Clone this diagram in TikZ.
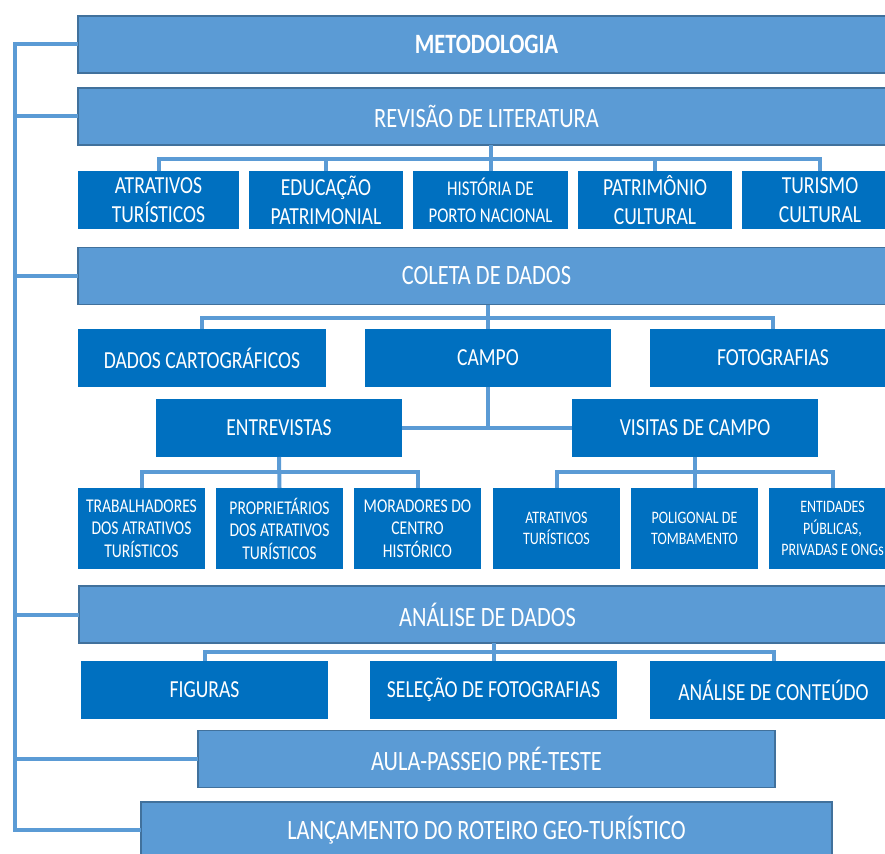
\documentclass[tikz,border=0pt]{standalone}
\usepackage{fontspec}
\setmainfont{Carlito}[FakeStretch=0.8]
\usetikzlibrary{positioning}
\definecolor{stageblue}{HTML}{5B9BD5}
\definecolor{stageedge}{HTML}{41719C}
\definecolor{topicblue}{HTML}{0070C0}
\definecolor{linkblue}{HTML}{5B9BD5}

\begin{document}
\begin{tikzpicture}[x=1pt, y=-1pt,
          stage/.style={rectangle, draw=stageedge, line width=1.2pt, fill=stageblue,
              text=white, minimum width=817pt, minimum height=57pt, outer sep=0pt,
              font=\fontsize{28}{33}\selectfont, anchor=west},
          topic/.style={rectangle, fill=topicblue, text=white, minimum height=58pt,
              outer sep=0pt, inner sep=2pt, align=center,
              font=\fontsize{24.5}{29}\selectfont},
          leaf/.style={topic, minimum width=127pt, minimum height=81pt,
              font=\fontsize{19.5}{22.5}\selectfont},
          small/.style={font=\fontsize{17.5}{21.5}\selectfont},
          link/.style={draw=linkblue, line width=4pt}
        ]
        \path[use as bounding box, clip] (0,0) rectangle (885,853);
        \node[stage, font=\bfseries\fontsize{28}{33}\selectfont] (met) at (78,44.5) {METODOLOGIA};
        \node[stage] (rev) at (78,116.5) {REVISÃO DE LITERATURA};
        \node[topic, minimum width=161pt, anchor=north west] (atr) at (78,171) {ATRATIVOS\\TURÍSTICOS};
        \node[topic, minimum width=154pt, right=10pt of atr] (edu) {EDUCAÇÃO\\PATRIMONIAL};
        \node[topic, minimum width=155pt, right=10pt of edu, font=\fontsize{21}{27}\selectfont] (his) {HISTÓRIA DE\\PORTO NACIONAL};
        \node[topic, minimum width=154pt, right=10pt of his] (pat) {PATRIMÔNIO\\CULTURAL};
        \node[topic, minimum width=156pt, right=10pt of pat] (tur) {TURISMO\\CULTURAL};
        \node[stage] (col) at (78,276) {COLETA DE DADOS};
        \node[topic, minimum width=248pt, anchor=north west] (dad) at (78,329) {DADOS CARTOGRÁFICOS};
        \node[topic, minimum width=246pt, right=39pt of dad] (cam) {CAMPO};
        \node[topic, minimum width=246pt, right=39pt of cam] (fot) {FOTOGRAFIAS};
        \node[topic, minimum width=246pt, anchor=north west] (ent) at (156,399) {ENTREVISTAS};
        \node[topic, minimum width=246pt, right=170pt of ent] (vis) {VISITAS DE CAMPO};
        \node[leaf, anchor=north west] (tra) at (78,488) {TRABALHADORES\\DOS ATRATIVOS\\TURÍSTICOS};
        \node[leaf, right=11pt of tra] (pro) {PROPRIETÁRIOS\\DOS ATRATIVOS\\TURÍSTICOS};
        \node[leaf, right=11pt of pro] (mor) {MORADORES DO\\CENTRO\\HISTÓRICO};
        \node[leaf, small, right=12pt of mor] (atv) {ATRATIVOS\\TURÍSTICOS};
        \node[leaf, small, right=11pt of atv] (pol) {POLIGONAL DE\\TOMBAMENTO};
        \node[leaf, small, right=11pt of pol] (ong) {ENTIDADES\\PÚBLICAS,\\PRIVADAS E ONGs};
        \node[stage] (ana) at (79,614.5) {ANÁLISE DE DADOS};
        \node[topic, minimum width=247pt, anchor=north west] (fig) at (81,661) {FIGURAS};
        \node[topic, minimum width=247pt, right=42pt of fig] (sel) {SELEÇÃO DE FOTOGRAFIAS};
        \node[topic, minimum width=247pt, right=33pt of sel] (aco) {ANÁLISE DE CONTEÚDO};
        \node[stage, minimum width=577pt] (aul) at (198,759) {AULA-PASSEIO PRÉ-TESTE};
        \node[stage, minimum width=691pt, minimum height=56pt] (lan) at (141,830) {LANÇAMENTO DO ROTEIRO GEO-TURÍSTICO};
        % left spine
        \coordinate (spine) at (15,0);
        \draw[link] (met.west) -- (met.west -| spine) |- (lan.west);
        \foreach \n in {rev,col,ana,aul} \draw[link] (\n.west) -- (\n.west -| spine);
        % literature
        \draw[link] (rev.south -| his.north) -- (his.north);
        \draw[link] (atr.north) -- ++(0,-12) -| (tur.north);
        \foreach \n in {edu,pat} \draw[link] (\n.north) -- ++(0,-12);
        % data collection
        \draw[link] (col.south -| cam.north) -- (cam.north);
        \draw[link] (dad.north) -- ++(0,-11) -| (fot.north);
        \draw[link] (cam.south) -- (cam.south |- ent.east);
        \draw[link] (ent.east) -- (vis.west);
        \draw[link] (ent.south) -- (pro.north);
        \draw[link] (tra.north) -- ++(0,-16) -| (mor.north);
        \draw[link] (vis.south) -- (vis.south |- pol.north);
        \draw[link] (atv.north) -- ++(0,-16) -| (ong.north);
        % analysis
        \draw[link] (ana.south -| sel.north) -- (sel.north);
        \draw[link] (fig.north) -- ++(0,-9) -| (aco.north);
      \end{tikzpicture}
\end{document}
